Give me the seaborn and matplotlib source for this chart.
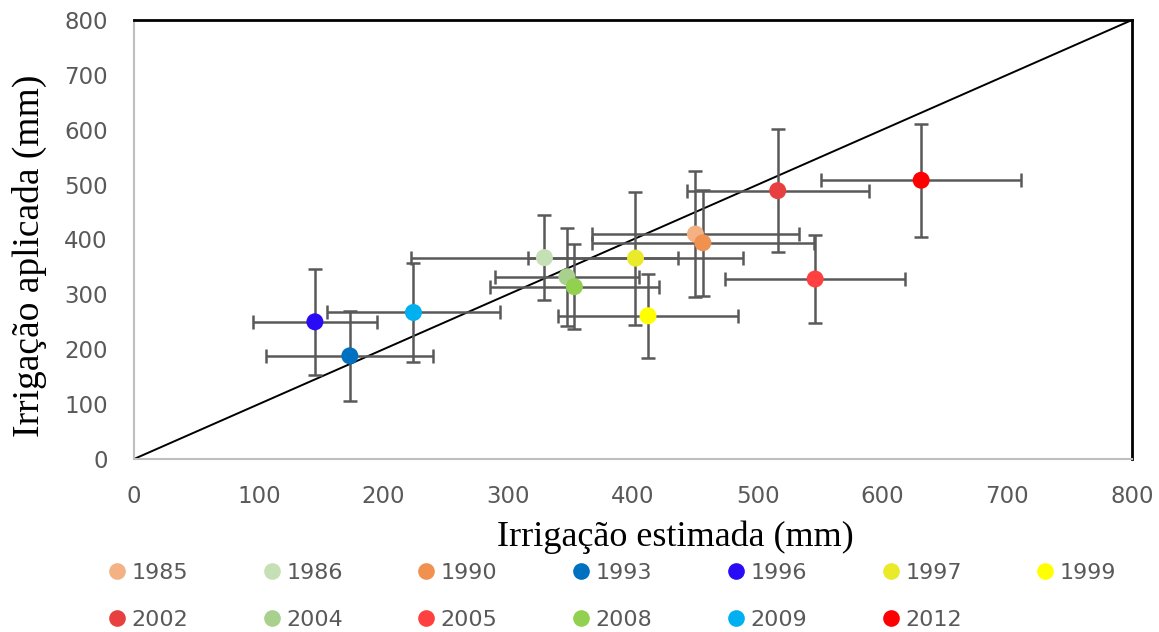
import matplotlib
matplotlib.use("Agg")
import matplotlib.pyplot as plt
from matplotlib.lines import Line2D
import seaborn as sns
import pandas as pd

# ---- data ----
years = ['1985', '1986', '1990', '1993', '1996', '1997', '1999',
         '2002', '2004', '2005', '2008', '2009', '2012']
irrig_estimada = [450, 329, 456, 173, 145, 402, 412, 516, 347, 546, 353, 224, 631]
irrig_aplicada = [410, 367, 394, 188, 250, 366, 261, 489, 332, 328, 314, 267, 508]
err_estimada = [83, 107, 89, 67, 50, 86, 72, 73, 58, 72, 68, 69, 80]
err_aplicada = [115, 77, 97, 82, 97, 121, 77, 112, 89, 80, 78, 90, 103]
colors = ['#F4B183', '#C5E0B4', '#F0914F', '#0070C0', '#2A0BF5', '#EAEA2A', '#FFFF00',
          '#E84040', '#A9D18E', '#FF4040', '#92D050', '#00B0F0', '#FF0000']
one_to_one = [0, 800]
ticks = [0, 100, 200, 300, 400, 500, 600, 700, 800]

df = pd.DataFrame({'year': years, 'est': irrig_estimada, 'apl': irrig_aplicada,
                   'xerr': err_estimada, 'yerr': err_aplicada})
palette = dict(zip(years, colors))

sns.set_theme(style="white")
plt.rcParams['font.family'] = ['DejaVu Sans']

fig = plt.figure(figsize=(11.59, 6.32), dpi=100)
ax = fig.add_axes([134 / 1159, 1 - 459 / 632, 998 / 1159, 439 / 632])

# 1:1 line
sns.lineplot(x=one_to_one, y=one_to_one, ax=ax, color='black', linewidth=1.4, zorder=2)

# error bars
ax.errorbar(df['est'], df['apl'], xerr=df['xerr'], yerr=df['yerr'], fmt='none',
            ecolor='#595959', elinewidth=1.8, capsize=5, capthick=1.8, zorder=3)

# points
sns.scatterplot(data=df, x='est', y='apl', hue='year', palette=palette, s=150,
                edgecolor='none', linewidth=0, legend=False, ax=ax, zorder=4)

ax.set_xlim(0, 800)
ax.set_ylim(0, 800)
ax.set_xticks(ticks)
ax.set_yticks(ticks)
ax.tick_params(axis='both', length=0, labelsize=16.5, labelcolor='#595959')
ax.tick_params(axis='x', pad=19)
ax.tick_params(axis='y', pad=19)

for s in ['left', 'bottom']:
    ax.spines[s].set_color('#BFBFBF')
    ax.spines[s].set_linewidth(1.5)
for s in ['top', 'right']:
    ax.spines[s].set_color('black')
    ax.spines[s].set_linewidth(2)
    ax.spines[s].set_visible(True)

ax.set_xlabel('')
ax.set_ylabel('')
fig.text(675 / 1159, 1 - 537 / 632, 'Irrigação estimada (mm)', ha='center', va='center',
         fontsize=26, family=['Liberation Serif', 'DejaVu Serif'], color='black')
fig.text(29 / 1159, 1 - 256 / 632, 'Irrigação aplicada (mm)', ha='center', va='center',
         rotation=90, fontsize=27, family=['Liberation Serif', 'DejaVu Serif'], color='black')

# legend: row-major appearance via column-major fill
order = [0, 7, 1, 8, 2, 9, 3, 10, 4, 11, 5, 12, 6]
handles = [Line2D([], [], marker='o', linestyle='none', markersize=12,
                  markerfacecolor=colors[i], markeredgecolor='none') for i in order]
labels = [years[i] for i in order]
leg = fig.legend(handles, labels, ncol=7, loc='upper left',
                 bbox_to_anchor=(108 / 1159, 1 - 563 / 632), frameon=False,
                 borderpad=0, borderaxespad=0, handlelength=0.8, handletextpad=0.25,
                 columnspacing=3.36, labelspacing=1.22, fontsize=16)
for t in leg.get_texts():
    t.set_color('#595959')

fig.savefig('out.png', dpi=100)
